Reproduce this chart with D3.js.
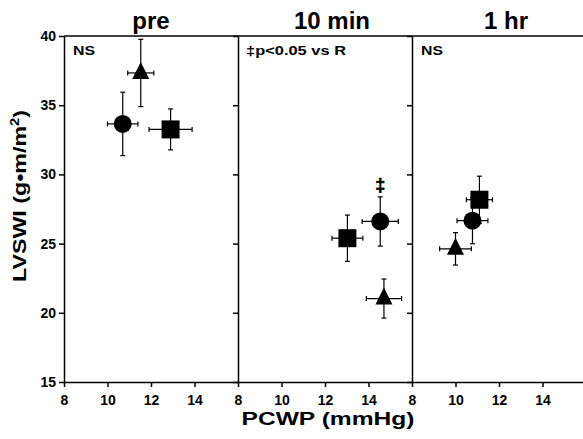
<!DOCTYPE html>
<html>
<head>
<meta charset="utf-8">
<script src="https://cdn.jsdelivr.net/npm/d3@7"></script>
<style>
  body { margin: 0; background: #fff; }
  svg { display: block; }
  text { font-family: "Liberation Sans", Arial, Helvetica, sans-serif; font-weight: bold; fill: #000; }
</style>
</head>
<body>
<script>
// data
var panels = ["pre", "10 min", "1 hr"];
var notes = ["NS", "\u2021p<0.05 vs R", "NS"];
var xTicks = [8, 10, 12, 14];
var yTicks = [15, 20, 25, 30, 35, 40];

var circleX = [10.70, 14.54, 10.78];
var circleY = [33.65, 26.60, 26.66];
var circleXerr = [0.70, 0.83, 0.71];
var circleYerr = [2.29, 1.78, 1.67];

var squareX = [12.90, 13.03, 11.10];
var squareY = [33.25, 25.39, 28.17];
var squareXerr = [0.99, 0.71, 0.60];
var squareYerr = [1.48, 1.67, 1.70];

var triangleX = [11.53, 14.71, 10.00];
var triangleY = [37.33, 21.03, 24.62];
var triangleXerr = [0.60, 0.81, 0.73];
var triangleYerr = [2.43, 1.41, 1.17];

// panel where the circle gets the ‡ mark
var starPanel = 1;

var svgW = 583, svgH = 439;
var mLeft = 64, mTop = 36, panelW = 174, plotH = 346;

var svg = d3.select("body").append("svg")
  .attr("width", svgW)
  .attr("height", svgH);

var x = d3.scaleLinear().domain([8, 16]).range([0, panelW]);
var y = d3.scaleLinear().domain([15, 40]).range([plotH, 0]);

var series = [
  { shape: "circle", xs: circleX, ys: circleY, ex: circleXerr, ey: circleYerr },
  { shape: "square", xs: squareX, ys: squareY, ex: squareXerr, ey: squareYerr },
  { shape: "triangle", xs: triangleX, ys: triangleY, ex: triangleXerr, ey: triangleYerr }
];

// top frame line
svg.append("line")
  .attr("x1", mLeft).attr("x2", svgW)
  .attr("y1", mTop).attr("y2", mTop)
  .attr("stroke", "#000").attr("stroke-width", 1.5);

panels.forEach(function(name, i) {
  var g = svg.append("g")
    .attr("transform", "translate(" + (mLeft + i * panelW) + "," + mTop + ")");

  // y axis for each panel, labels only on the first
  var yAxis = d3.axisLeft(y)
    .tickValues(yTicks)
    .tickSize(5)
    .tickSizeOuter(0)
    .tickPadding(3)
    .tickFormat(i === 0 ? d3.format("d") : "");
  var ya = g.append("g").call(yAxis);

  var xAxis = d3.axisBottom(x)
    .tickValues(xTicks)
    .tickSize(5)
    .tickSizeOuter(0)
    .tickPadding(8)
    .tickFormat(d3.format("d"));
  var xa = g.append("g")
    .attr("transform", "translate(0," + plotH + ")")
    .call(xAxis);

  [ya, xa].forEach(function(a) {
    a.selectAll("path, line").attr("stroke", "#000").attr("stroke-width", 1.5);
    a.selectAll("text").attr("font-size", "14px").attr("fill", "#000")
      .attr("font-family", "'Liberation Sans', Arial, sans-serif").attr("font-weight", "bold");
  });

  // panel title
  g.append("text")
    .attr("x", panelW / 2 + (i ? 7 : 0))
    .attr("y", -7)
    .attr("text-anchor", "middle")
    .attr("font-size", "24px")
    .text(name);

  // note in corner
  g.append("text")
    .attr("x", i === 1 ? 8 : 9)
    .attr("y", 19)
    .attr("font-size", "13px")
    .attr("textLength", notes[i] === "NS" ? 22 : 100)
    .attr("lengthAdjust", "spacingAndGlyphs")
    .text(notes[i]);

  // error bars
  series.forEach(function(s) {
    var cx = x(s.xs[i]), cy = y(s.ys[i]);
    var x0 = x(s.xs[i] - s.ex[i]), x1 = x(s.xs[i] + s.ex[i]);
    var y0 = y(s.ys[i] - s.ey[i]), y1 = y(s.ys[i] + s.ey[i]);
    var eb = g.append("g").attr("stroke", "#000").attr("stroke-width", 1.2);
    eb.append("line").attr("x1", cx).attr("x2", cx).attr("y1", y0).attr("y2", y1);
    eb.append("line").attr("x1", cx - 2.5).attr("x2", cx + 2.5).attr("y1", y0).attr("y2", y0);
    eb.append("line").attr("x1", cx - 2.5).attr("x2", cx + 2.5).attr("y1", y1).attr("y2", y1);
    eb.append("line").attr("x1", x0).attr("x2", x1).attr("y1", cy).attr("y2", cy);
    eb.append("line").attr("x1", x0).attr("x2", x0).attr("y1", cy - 2.5).attr("y2", cy + 2.5);
    eb.append("line").attr("x1", x1).attr("x2", x1).attr("y1", cy - 2.5).attr("y2", cy + 2.5);
  });

  // markers
  series.forEach(function(s) {
    var cx = x(s.xs[i]), cy = y(s.ys[i]);
    if (s.shape === "circle") {
      g.append("circle").attr("cx", cx).attr("cy", cy).attr("r", 9).attr("fill", "#000");
    } else if (s.shape === "square") {
      g.append("rect").attr("x", cx - 9).attr("y", cy - 9)
        .attr("width", 18).attr("height", 18).attr("fill", "#000");
    } else {
      g.append("path")
        .attr("d", "M" + cx + "," + (cy - 11) + "L" + (cx + 8.5) + "," + (cy + 6) + "L" + (cx - 8.5) + "," + (cy + 6) + "Z")
        .attr("fill", "#000");
    }
  });

  if (i === starPanel) {
    g.append("text")
      .attr("x", x(circleX[i]))
      .attr("y", y(circleY[i] + circleYerr[i]) - 6)
      .attr("text-anchor", "middle")
      .attr("font-size", "18px")
      .attr("fill", "#000")
      .attr("stroke", "#000")
      .attr("stroke-width", 0.6)
      .text("\u2021");
  }
});

// axis titles
svg.append("text")
  .attr("x", 328)
  .attr("y", 425)
  .attr("text-anchor", "middle")
  .attr("font-size", "19px")
  .attr("textLength", 173)
  .attr("lengthAdjust", "spacingAndGlyphs")
  .text("PCWP (mmHg)");

var yt = svg.append("text")
  .attr("transform", "translate(26,196) rotate(-90)")
  .attr("text-anchor", "middle")
  .attr("font-size", "19px")
  .attr("textLength", 172)
  .attr("lengthAdjust", "spacingAndGlyphs");
yt.append("tspan").text("LVSWI (g\u2022m/m");
yt.append("tspan").attr("dy", -7).attr("font-size", "12px").text("2");
yt.append("tspan").attr("dy", 7).text(")");
</script>
</body>
</html>
